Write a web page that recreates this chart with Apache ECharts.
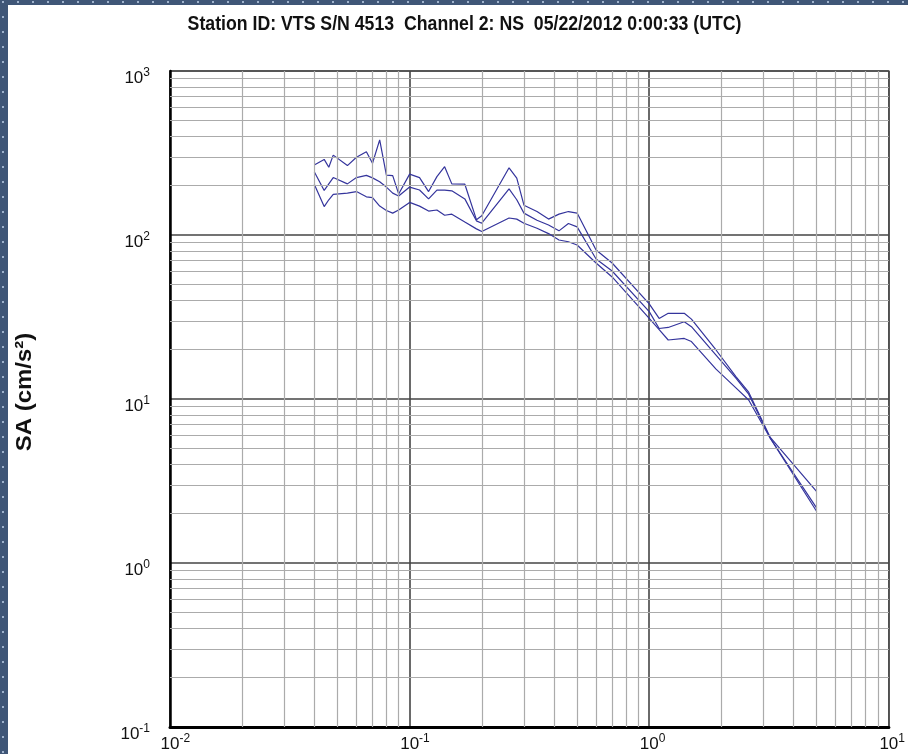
<!DOCTYPE html>
<html>
<head>
<meta charset="utf-8">
<title>Response spectrum - VTS S/N 4513 Channel 2</title>
<script src="https://cdn.jsdelivr.net/npm/echarts@6/dist/echarts.min.js"></script>
<style>
  html, body { margin: 0; padding: 0; width: 908px; height: 754px; overflow: hidden; }
  body {
    background-color: #3f5677;
    background-image: radial-gradient(circle at 3px 2px, #9fb2cc 0.9px, rgba(0,0,0,0) 1.4px);
    background-size: 15px 15px;
  }
  #chart { position: absolute; left: 8px; top: 5px; width: 900px; height: 749px; background: #ffffff; }
</style>
</head>
<body>
<div id="chart"></div>
<script>
// Spectral periods (s) shared by the three spectra
const periods = [0.04, 0.044, 0.046, 0.048, 0.055, 0.06, 0.066, 0.07, 0.075, 0.08,
  0.085, 0.09, 0.1, 0.11, 0.12, 0.13, 0.14, 0.15, 0.17, 0.19,
  0.2, 0.26, 0.28, 0.3, 0.34, 0.38, 0.42, 0.46, 0.5, 0.6,
  0.7, 1.0, 1.1, 1.2, 1.4, 1.5, 1.9, 2.3, 2.6, 3.2, 5.0];

// Spectral acceleration (cm/s^2)
const saUpper = [267, 289, 259, 307, 265, 298, 322, 274, 380, 232,
  230, 178, 235, 224, 184, 227, 261, 205, 204, 124,
  131, 257, 222, 152, 139, 125, 134, 139, 136, 81,
  67.5, 38, 31, 33.3, 33.3, 30.7, 19.9, 13.7, 11.0, 5.83, 2.72];
const saMiddle = [243, 187, 205, 224, 205, 224, 231, 223, 211, 196,
  180, 173, 196, 188, 166, 188, 188, 186, 166, 122,
  118, 191, 164, 136, 123, 115, 106, 117.5, 112, 71.4,
  60.3, 34.1, 26.9, 27.3, 29.6, 27.6, 18.5, 13.4, 10.7, 5.76, 2.16];
const saLower = [204, 149, 164, 177, 180, 184, 171, 169, 150, 141,
  136, 142, 158, 150, 140, 142, 132, 134, 120, 109,
  105, 127, 125, 118, 110, 102, 93.2, 91, 86.9, 67.5,
  55.5, 31, 26.5, 22.9, 23.4, 22.4, 15.2, 11.7, 9.86, 5.76, 2.06];

// Axis extents (decades)
const xDecades = [0.01, 0.1, 1, 10];
const yDecades = [0.1, 1, 10, 100, 1000];

const titleText = 'Station ID: VTS S/N 4513  Channel 2: NS  05/22/2012 0:00:33 (UTC)';
const yName = 'SA (cm/s\u00b2)';

// Minor grid values: 2..9 within each decade
function minorValues(decades) {
  const out = [];
  for (let i = 0; i < decades.length - 1; i++) {
    for (let k = 2; k <= 9; k++) out.push(+(decades[i] * k).toPrecision(3));
  }
  return out;
}

const FONT = '"Liberation Sans", Arial, sans-serif';
const LINE_COLOR = '#34349c';

function expOf(v) { return Math.round(Math.log10(v)); }

// "10" with a raised exponent; pn/pp are blank spacers that keep "10" centred on the tick
const richLabel = {
  pn: { fontSize: 12, fontFamily: FONT, lineHeight: 20, width: 10.7 },
  pp: { fontSize: 12, fontFamily: FONT, lineHeight: 20, width: 6.7 },
  b: { fontSize: 17, fontFamily: FONT, color: '#111', lineHeight: 20, verticalAlign: 'bottom' },
  s: { fontSize: 12, fontFamily: FONT, color: '#111', lineHeight: 13, verticalAlign: 'top' }
};

const chart = echarts.init(document.getElementById('chart'), null, { renderer: 'canvas' });

const toPairs = vals => periods.map((p, i) => [p, vals[i]]);

const gridLineSeries = {
  type: 'line',
  data: [],
  z: 1,
  silent: true,
  markLine: {
    silent: true,
    symbol: ['none', 'none'],
    label: { show: false },
    animation: false,
    lineStyle: { color: '#ababab', width: 1.2, type: 'solid' },
    emphasis: { disabled: true },
    data: minorValues(xDecades).map(v => ({ xAxis: v }))
      .concat(minorValues(yDecades).map(v => ({ yAxis: v })))
  }
};

function spectrum(vals) {
  return {
    type: 'line',
    data: toPairs(vals),
    z: 3,
    showSymbol: false,
    symbol: 'none',
    silent: true,
    lineStyle: { color: LINE_COLOR, width: 1.2 },
    animation: false
  };
}

chart.setOption({
  animation: false,
  backgroundColor: '#ffffff',
  grid: {
    left: 162, top: 66, width: 722, height: 656,
    show: true, borderColor: '#6e6e6e', borderWidth: 1.5, backgroundColor: 'transparent'
  },
  xAxis: {
    type: 'log', logBase: 10, min: 0.01, max: 10,
    axisLine: { show: true, onZero: false, lineStyle: { color: '#000', width: 3 } },
    axisTick: { show: false },
    splitLine: { show: true, lineStyle: { color: '#454545', width: 1.6 } },
    axisLabel: {
      margin: 6,
      showMinLabel: true, showMaxLabel: true,
      formatter: v => {
        const e = expOf(v);
        return (e < 0 ? '{pn| }' : '{pp| }') + '{b|10}{s|' + e + '}';
      },
      rich: richLabel
    }
  },
  yAxis: {
    type: 'log', logBase: 10, min: 0.1, max: 1000,
    axisLine: { show: true, onZero: false, lineStyle: { color: '#000', width: 2.5 } },
    axisTick: { show: false },
    splitLine: { show: true, lineStyle: { color: '#454545', width: 1.6 } },
    axisLabel: {
      margin: 20,
      padding: [12, 0, 0, 0],
      showMinLabel: true, showMaxLabel: true,
      formatter: v => '{b|10}{s|' + expOf(v) + '}',
      rich: richLabel
    }
  },
  graphic: [
    {
      type: 'text', x: 456.5, y: 19.5, scaleX: 0.885, silent: true,
      style: { text: titleText, font: 'bold 20px ' + FONT, fill: '#111', align: 'center', verticalAlign: 'middle' }
    },
    {
      type: 'text', x: 17, y: 387, rotation: Math.PI / 2, scaleY: 0.92, silent: true,
      style: { text: yName, font: 'bold 24px ' + FONT, fill: '#111', align: 'center', verticalAlign: 'middle' }
    }
  ],
  series: [gridLineSeries, spectrum(saUpper), spectrum(saMiddle), spectrum(saLower)]
});
</script>
</body>
</html>
